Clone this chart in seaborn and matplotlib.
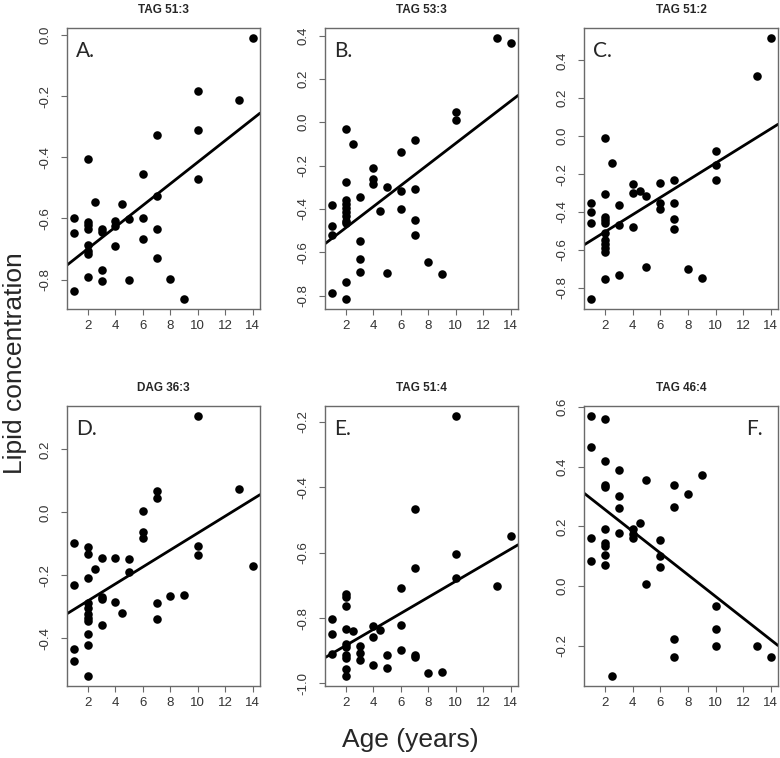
import matplotlib
matplotlib.use("Agg")
import matplotlib.pyplot as plt
import numpy as np
import seaborn as sns

# ages (years) and lipid concentration read per panel
age_a = [1, 1, 1, 2, 2, 2, 2, 2, 2, 2, 2, 2.5, 3, 3, 3, 3, 4, 4, 4, 4.5, 5, 5,
         6, 6, 6, 7, 7, 7, 7, 8, 9, 10, 10, 10, 13, 14]
conc_a = [-0.598, -0.647, -0.837, -0.407, -0.613, -0.622, -0.636, -0.688, -0.706, -0.717, -0.79,
          -0.546, -0.634, -0.643, -0.77, -0.806, -0.608, -0.625, -0.689, -0.554, -0.603, -0.801,
          -0.455, -0.598, -0.668, -0.326, -0.528, -0.633, -0.729, -0.799, -0.862,
          -0.184, -0.312, -0.472, -0.213, -0.011]

age_b = [1, 1, 1, 1, 2, 2, 2, 2, 2, 2, 2, 2, 2, 2, 2, 2.5, 3, 3, 3, 3, 4, 4, 4, 4.5,
         5, 5, 6, 6, 6, 7, 7, 7, 7, 8, 9, 10, 10, 13, 14]
conc_b = [-0.38, -0.48, -0.519, -0.79, -0.031, -0.276, -0.359, -0.377, -0.397, -0.415, -0.435,
          -0.455, -0.466, -0.737, -0.814, -0.10, -0.346, -0.549, -0.63, -0.69, -0.21, -0.262,
          -0.283, -0.411, -0.297, -0.698, -0.137, -0.316, -0.40, -0.082, -0.307, -0.453, -0.519,
          -0.647, -0.70, 0.045, 0.012, 0.387, 0.367]

age_c = [1, 1, 1, 1, 2, 2, 2, 2, 2, 2, 2, 2, 2, 2, 2, 2.5, 3, 3, 3, 4, 4, 4, 4.5,
         5, 5, 6, 6, 6, 7, 7, 7, 7, 8, 9, 10, 10, 10, 13, 14]
conc_c = [-0.352, -0.40, -0.46, -0.857, -0.01, -0.305, -0.426, -0.44, -0.456, -0.51, -0.55,
          -0.57, -0.59, -0.61, -0.755, -0.14, -0.365, -0.47, -0.73, -0.25, -0.30, -0.477, -0.29,
          -0.315, -0.69, -0.245, -0.35, -0.385, -0.232, -0.35, -0.435, -0.49, -0.70, -0.75,
          -0.08, -0.153, -0.23, 0.32, 0.516]

age_d = [1, 1, 1, 1, 2, 2, 2, 2, 2, 2, 2, 2, 2, 2, 2, 2.5, 3, 3, 3, 3, 4, 4, 4.5,
         5, 5, 6, 6, 6, 7, 7, 7, 7, 8, 9, 10, 10, 10, 13, 14]
conc_d = [-0.096, -0.231, -0.434, -0.473, -0.111, -0.133, -0.208, -0.286, -0.303, -0.321, -0.334,
          -0.344, -0.386, -0.422, -0.518, -0.181, -0.145, -0.268, -0.276, -0.358, -0.145, -0.283,
          -0.319, -0.148, -0.188, 0.006, -0.061, -0.081, 0.068, 0.047, -0.289, -0.337,
          -0.265, -0.262, 0.305, -0.108, -0.134, 0.075, -0.17]

age_e = [1, 1, 1, 2, 2, 2, 2, 2, 2, 2, 2, 2, 2, 2.5, 3, 3, 3, 4, 4, 4, 4.5,
         5, 5, 6, 6, 6, 7, 7, 7, 7, 8, 9, 10, 10, 10, 13, 14]
conc_e = [-0.802, -0.849, -0.91, -0.727, -0.735, -0.764, -0.832, -0.879, -0.887, -0.914, -0.923,
          -0.955, -0.976, -0.839, -0.886, -0.908, -0.928, -0.824, -0.858, -0.944, -0.837,
          -0.914, -0.954, -0.707, -0.822, -0.898, -0.465, -0.647, -0.913, -0.92,
          -0.968, -0.964, -0.183, -0.604, -0.676, -0.702, -0.55]

age_f = [1, 1, 1, 1, 2, 2, 2, 2, 2, 2, 2, 2, 2, 2.5, 3, 3, 3, 3, 4, 4, 4, 4.5,
         5, 5, 6, 6, 6, 7, 7, 7, 7, 8, 9, 10, 10, 10, 13, 14]
conc_f = [0.569, 0.466, 0.162, 0.083, 0.56, 0.42, 0.34, 0.332, 0.193, 0.144, 0.134, 0.103, 0.071,
          -0.30, 0.388, 0.302, 0.262, 0.179, 0.193, 0.176, 0.16, 0.211, 0.355, 0.008,
          0.156, 0.10, 0.065, 0.34, 0.264, -0.176, -0.236, 0.308, 0.371,
          -0.068, -0.144, -0.202, -0.20, -0.236]

titles = ["TAG 51:3", "TAG 53:3", "TAG 51:2", "DAG 36:3", "TAG 51:4", "TAG 46:4"]
letters = ["A.", "B.", "C.", "D.", "E.", "F."]
ages = [age_a, age_b, age_c, age_d, age_e, age_f]
concs = [conc_a, conc_b, conc_c, conc_d, conc_e, conc_f]
yticks = [[-0.8, -0.6, -0.4, -0.2, 0.0], [-0.8, -0.6, -0.4, -0.2, 0.0, 0.2, 0.4],
          [-0.8, -0.6, -0.4, -0.2, 0.0, 0.2, 0.4], [-0.4, -0.2, 0.0, 0.2],
          [-1.0, -0.8, -0.6, -0.4, -0.2], [-0.2, 0.0, 0.2, 0.4, 0.6]]

sns.set_style("white")
plt.rcParams['font.family'] = ['Liberation Sans', 'DejaVu Sans']

W, H = 780, 758
fig = plt.figure(figsize=(W / 100, H / 100), dpi=100)

# axes boxes in pixels: left, top, right, bottom
lefts = [67, 325, 584]
rights = [260, 518, 778]
tops = [28, 406]
bottoms = [309, 686]

frame = "#6a6a6a"
for i in range(6):
    r, c = divmod(i, 3)
    x0, x1 = lefts[c], rights[c]
    y0, y1 = tops[r], bottoms[r]
    ax = fig.add_axes([x0 / W, 1 - y1 / H, (x1 - x0) / W, (y1 - y0) / H])
    x = np.array(ages[i], dtype=float)
    y = np.array(concs[i], dtype=float)
    ax.set_xlim(1 - 0.04 * 13, 14 + 0.04 * 13)
    rng = y.max() - y.min()
    sns.regplot(x=x, y=y, ax=ax, ci=None, truncate=False,
                scatter_kws=dict(s=38, color="black", edgecolor="black", linewidths=0, alpha=1),
                line_kws=dict(color="black", lw=2))
    ax.set_xlim(1 - 0.04 * 13, 14 + 0.04 * 13)
    ax.set_ylim(y.min() - 0.04 * rng, y.max() + 0.04 * rng)
    ax.set_xticks([2, 4, 6, 8, 10, 12, 14])
    ax.set_yticks(yticks[i])
    ax.set_yticklabels([f"{v:.1f}" for v in yticks[i]], rotation=90, va="center")
    ax.tick_params(axis="both", direction="out", length=4, width=0.8, color=frame,
                   labelsize=9.5, labelcolor="#333333", bottom=True, left=True)
    ax.tick_params(axis="y", pad=7)
    ax.tick_params(axis="x", pad=4)
    for sp in ax.spines.values():
        sp.set_color(frame)
        sp.set_linewidth(1)
    ax.set_title(titles[i], fontsize=8.5, fontweight="bold", pad=11)
    if i == 5:
        ax.text(0.92, 0.955, letters[i], transform=ax.transAxes, ha="right", va="top",
                fontsize=15, family=["Lato", "DejaVu Sans"])
    else:
        ax.text(0.045, 0.955, letters[i], transform=ax.transAxes, ha="left", va="top",
                fontsize=15, family=["Lato", "DejaVu Sans"])

fig.text(15 / W, 1 - 363 / H, "Lipid concentration", rotation=90, ha="center", va="center",
         fontsize=19)
fig.text(410 / W, 1 - 740 / H, "Age (years)", ha="center", va="center", fontsize=19)

fig.savefig("out.png", dpi=100)
